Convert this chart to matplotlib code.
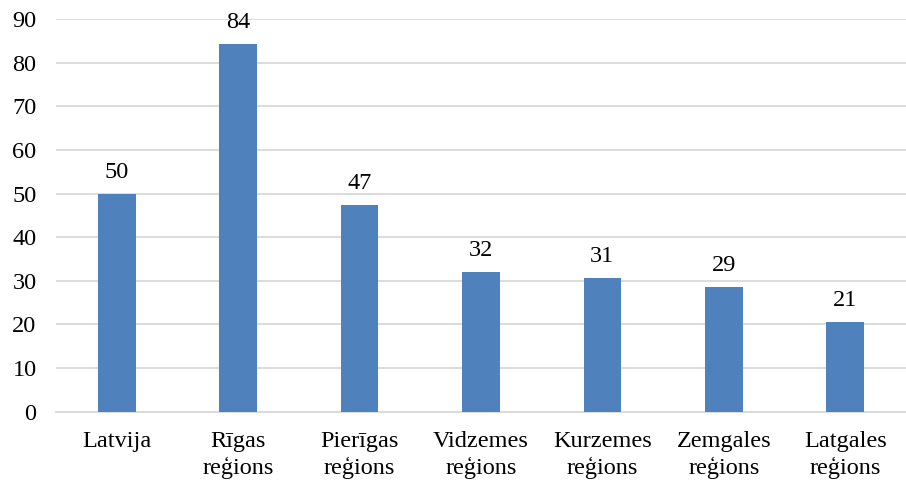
import matplotlib
matplotlib.use("Agg")
import matplotlib.pyplot as plt
import numpy as np

plt.rcParams.update({
    "font.family": ["Liberation Serif", "DejaVu Serif"],
    "font.size": 17.5,
})

# values
regions = ["Latvija", "Rīgas\nreģions", "Pierīgas\nreģions", "Vidzemes\nreģions",
           "Kurzemes\nreģions", "Zemgales\nreģions", "Latgales\nreģions"]
values = [49.9, 84.2, 47.4, 32.0, 30.6, 28.6, 20.6]
yticks = [0, 10, 20, 30, 40, 50, 60, 70, 80, 90]

BAR = "#4F81BD"
GRID = "#D9D9D9"

fig = plt.figure(figsize=(9.06, 4.8), dpi=100)
ax = fig.add_axes([56 / 906, (480 - 411.7) / 480, 850 / 906, (411.7 - 19) / 480])

x = np.arange(len(regions))
bars = ax.bar(x, values, width=0.31, color=BAR, zorder=3)

for b, v in zip(bars, values):
    ax.annotate(f"{v:.0f}", (b.get_x() + b.get_width() / 2, v),
                xytext=(0, 8), textcoords="offset points",
                ha="center", va="bottom")

ax.set_xlim(-0.5, len(regions) - 0.5)
ax.set_ylim(0, 90)
ax.set_yticks(yticks)
ax.set_xticks(x)
ax.set_xticklabels(regions, linespacing=1.3)
ax.tick_params(axis="both", length=0)
ax.tick_params(axis="x", pad=14)
ax.tick_params(axis="y", pad=14)

ax.yaxis.grid(True, color=GRID, linewidth=1.3, zorder=0)
for side in ["left", "right", "top"]:
    ax.spines[side].set_visible(False)
ax.spines["bottom"].set_color(GRID)
ax.spines["bottom"].set_linewidth(1.3)

fig.savefig("out.png", dpi=100)
